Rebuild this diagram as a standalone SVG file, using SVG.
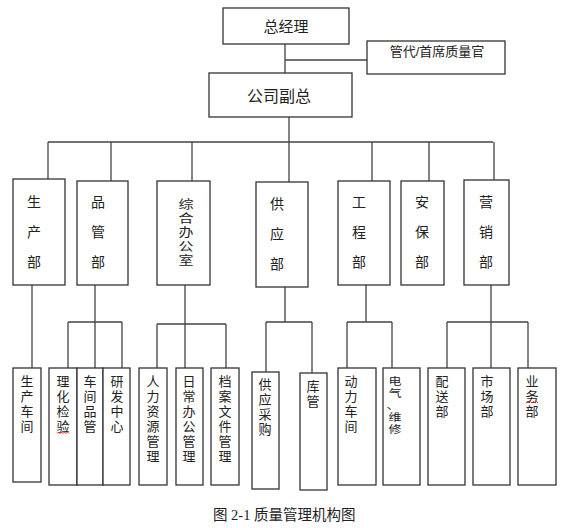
<svg xmlns="http://www.w3.org/2000/svg" width="569" height="528" viewBox="0 0 569 528">
<style>
.box{fill:#fff;stroke:#333;stroke-width:1.3}
.ln{fill:none;stroke:#444;stroke-width:1.3}
.t{font-family:"Liberation Sans","Noto Sans CJK SC",sans-serif;fill:#222;text-anchor:middle}
.d{font-size:14px}
.s{font-size:13px}
.sq{fill:none;stroke:#e02020;stroke-width:1}
.cap{font-family:"Liberation Serif","Noto Sans CJK SC",serif;font-size:14.5px;fill:#222}
</style>
<rect width="569" height="528" fill="#fff"/>
<g id="connectors">
<path class="ln" d="M285 44V73M285 60H367M289 117V182M48 142H493M48 142V179M111 142V181M192 142V181M372 142V181M429 142V181M494 142V180"/>
<path class="ln" d="M32 285V368"/>
<path class="ln" d="M95 285V368M68 322H122M68 322V368M122 322V368"/>
<path class="ln" d="M185 285V368M157 324H226M157 324V368M226 324V368"/>
<path class="ln" d="M285 287V322M266 322H312M266 322V372M312 322V373"/>
<path class="ln" d="M366 285V322M347 322H392M347 322V368M392 322V368"/>
<path class="ln" d="M491 285V368M447 322H528M447 322V368M528 322V368"/>
</g>
<g id="n-zjl"><rect class="box" x="223" y="8" width="126" height="36"/><text class="t" x="286" y="32" font-size="15">总经理</text></g>
<g id="n-gd"><rect class="box" x="367" y="41" width="138" height="33"/><text class="t" x="437" y="56" font-size="13">管代/首席质量官</text></g>
<g id="n-gsfz"><rect class="box" x="209" y="73" width="143" height="44"/><text class="t" x="279" y="102" font-size="16">公司副总</text></g>
<g id="n-scb"><rect class="box" x="13" y="179" width="52" height="106"/><text class="t d"><tspan x="34" y="207">生</tspan><tspan x="34" y="237">产</tspan><tspan x="34" y="267">部</tspan></text></g>
<g id="n-pgb"><rect class="box" x="77" y="181" width="51" height="104"/><text class="t d"><tspan x="98" y="207">品</tspan><tspan x="98" y="237">管</tspan><tspan x="98" y="267">部</tspan></text></g>
<g id="n-zhbgs"><rect class="box" x="157" y="181" width="53" height="104"/>
<text class="t" font-size="15" transform="translate(186,209) scale(1,0.8)">综</text>
<text class="t" font-size="15" transform="translate(186,223) scale(1,0.8)">合</text>
<text class="t" font-size="15" transform="translate(186,237) scale(1,0.8)">办</text>
<text class="t" font-size="15" transform="translate(186,251) scale(1,0.8)">公</text>
<text class="t" font-size="15" transform="translate(186,265) scale(1,0.8)">室</text></g>
<g id="n-gyb"><rect class="box" x="256" y="182" width="52" height="105"/><text class="t d"><tspan x="277" y="209">供</tspan><tspan x="277" y="239">应</tspan><tspan x="277" y="269">部</tspan></text></g>
<g id="n-gcb"><rect class="box" x="338" y="181" width="52" height="104"/><text class="t d"><tspan x="359" y="207">工</tspan><tspan x="359" y="237">程</tspan><tspan x="359" y="267">部</tspan></text></g>
<g id="n-abb"><rect class="box" x="401" y="181" width="43" height="104"/><text class="t d"><tspan x="422" y="207">安</tspan><tspan x="422" y="237">保</tspan><tspan x="422" y="267">部</tspan></text></g>
<g id="n-yxb"><rect class="box" x="464" y="180" width="45" height="105"/><text class="t d"><tspan x="486" y="207">营</tspan><tspan x="486" y="237">销</tspan><tspan x="486" y="267">部</tspan></text></g>
<g id="n-sccj"><rect class="box" x="13" y="368" width="28" height="114"/><text class="t s"><tspan x="27" y="386">生</tspan><tspan x="27" y="401">产</tspan><tspan x="27" y="416">车</tspan><tspan x="27" y="431">间</tspan></text></g>
<g id="n-lhjy"><rect class="box" x="49" y="368" width="28" height="117"/><text class="t s"><tspan x="63" y="386">理</tspan><tspan x="63" y="401">化</tspan><tspan x="63" y="416">检</tspan><tspan x="63" y="431">验</tspan></text><path class="sq" d="M57 433.5l1.5-1.5 1.5 1.5 1.5-1.5 1.5 1.5 1.5-1.5 1.5 1.5 1.5-1.5 1.5 1.5"/></g>
<g id="n-cjpg"><rect class="box" x="77" y="368" width="26" height="117"/><text class="t s"><tspan x="90" y="386">车</tspan><tspan x="90" y="401">间</tspan><tspan x="90" y="416">品</tspan><tspan x="90" y="431">管</tspan></text></g>
<g id="n-yfzx"><rect class="box" x="103" y="368" width="27" height="117"/><text class="t s"><tspan x="117" y="386">研</tspan><tspan x="117" y="401">发</tspan><tspan x="117" y="416">中</tspan><tspan x="117" y="431">心</tspan></text></g>
<g id="n-rlzy"><rect class="box" x="139" y="368" width="28" height="117"/><text class="t s"><tspan x="153" y="386">人</tspan><tspan x="153" y="401">力</tspan><tspan x="153" y="416">资</tspan><tspan x="153" y="431">源</tspan><tspan x="153" y="446">管</tspan><tspan x="153" y="461">理</tspan></text></g>
<g id="n-rcbg"><rect class="box" x="176" y="368" width="27" height="117"/><text class="t s"><tspan x="189" y="386">日</tspan><tspan x="189" y="401">常</tspan><tspan x="189" y="416">办</tspan><tspan x="189" y="431">公</tspan><tspan x="189" y="446">管</tspan><tspan x="189" y="461">理</tspan></text></g>
<g id="n-dawj"><rect class="box" x="211" y="368" width="28" height="117"/><text class="t s"><tspan x="225" y="386">档</tspan><tspan x="225" y="401">案</tspan><tspan x="225" y="416">文</tspan><tspan x="225" y="431">件</tspan><tspan x="225" y="446">管</tspan><tspan x="225" y="461">理</tspan></text></g>
<g id="n-gycg"><rect class="box" x="252" y="372" width="27" height="117"/><text class="t s"><tspan x="265" y="389">供</tspan><tspan x="265" y="404">应</tspan><tspan x="265" y="419">采</tspan><tspan x="265" y="434">购</tspan></text></g>
<g id="n-kg"><rect class="box" x="300" y="373" width="27" height="117"/><text class="t s"><tspan x="313" y="391">库</tspan><tspan x="313" y="406">管</tspan></text></g>
<g id="n-dlcj"><rect class="box" x="338" y="368" width="38" height="117"/><text class="t s"><tspan x="351" y="386">动</tspan><tspan x="351" y="401">力</tspan><tspan x="351" y="416">车</tspan><tspan x="351" y="431">间</tspan></text></g>
<g id="n-dqwx"><rect class="box" x="383" y="368" width="37" height="117"/>
<text class="t s" transform="translate(395,385) scale(1,0.8)">电</text>
<text class="t s" transform="translate(395,397) scale(1,0.8)">气</text>
<text class="t s" transform="translate(393,409) scale(1,0.8)">、</text>
<text class="t s" transform="translate(395,421) scale(1,0.8)">维</text>
<text class="t s" transform="translate(395,433) scale(1,0.8)">修</text></g>
<g id="n-psb"><rect class="box" x="428" y="368" width="37" height="117"/><text class="t s"><tspan x="442" y="386">配</tspan><tspan x="442" y="401">送</tspan><tspan x="442" y="416">部</tspan></text></g>
<g id="n-scb2"><rect class="box" x="473" y="368" width="37" height="117"/><text class="t s"><tspan x="487" y="386">市</tspan><tspan x="487" y="401">场</tspan><tspan x="487" y="416">部</tspan></text></g>
<g id="n-ywb"><rect class="box" x="518" y="368" width="38" height="117"/><text class="t s"><tspan x="532" y="386">业</tspan><tspan x="532" y="401">务</tspan><tspan x="532" y="416">部</tspan></text><path class="sq" d="M526 403l1.5-1.5 1.5 1.5 1.5-1.5 1.5 1.5 1.5-1.5 1.5 1.5 1.5-1.5 1.5 1.5"/></g>
<text class="cap" x="213" y="520">图 2-1 质量管理机构图</text>
</svg>
